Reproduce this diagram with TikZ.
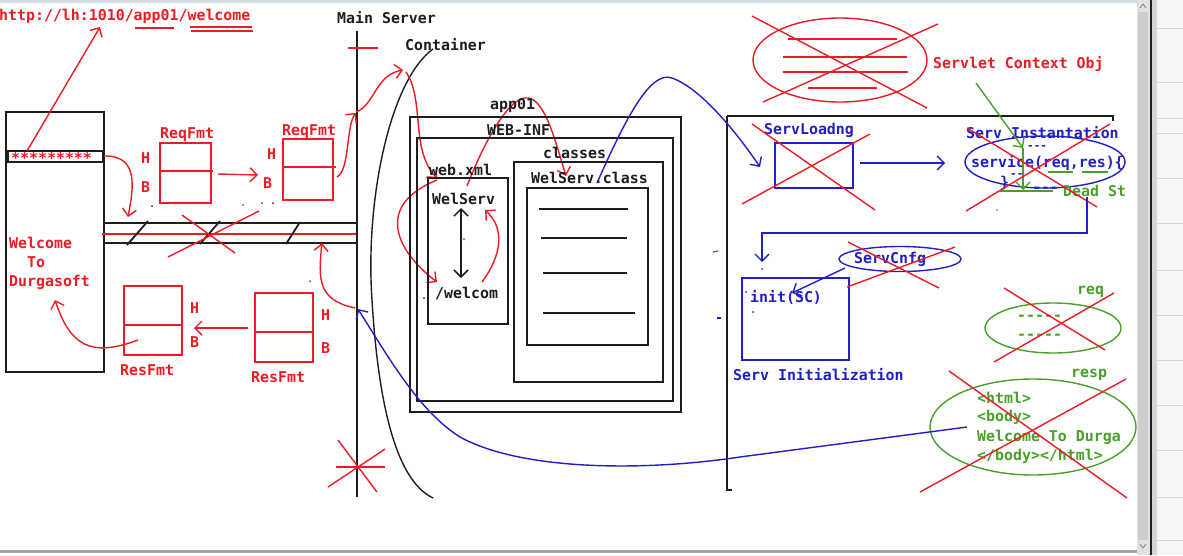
\documentclass[tikz,border=0pt]{standalone}
\usepackage{fontspec}
\setmonofont{DejaVu Sans Mono}
\usetikzlibrary{arrows.meta,shapes.geometric}
\definecolor{pred}{RGB}{237,28,36}
\definecolor{pblue}{RGB}{32,32,196}
\definecolor{pgreen}{RGB}{72,160,40}
\definecolor{pblk}{RGB}{30,30,30}
\definecolor{frametop}{RGB}{214,220,232}
\definecolor{scroll}{RGB}{205,205,205}
\definecolor{panel}{RGB}{246,246,246}
\definecolor{panelline}{RGB}{212,212,212}
\begin{document}
\begin{tikzpicture}[x=1pt,y=-1pt,
  t/.style={font=\ttfamily\bfseries\fontsize{14.9}{16}\selectfont, inner sep=0pt, anchor=west},
  sm/.style={font=\ttfamily\bfseries\fontsize{11}{12}\selectfont},
  rl/.style={pred, line width=1.4pt},
  bl/.style={pblue, line width=1.4pt},
  gl/.style={pgreen, line width=1.4pt},
  kl/.style={pblk, line width=1.8pt},
  v/.style={-{Straight Barb[length=7pt,width=14pt]}},
  vv/.style={{Straight Barb[length=7pt,width=14pt]}-{Straight Barb[length=7pt,width=14pt]}},
  dot/.style={inner sep=0pt, minimum size=2pt, circle, fill},
]
\useasboundingbox (0,0) rectangle (1183,555);
\fill[white] (0,0) rectangle (1183,555);
% window frame
\fill[frametop] (0,0) rectangle (1137,3);
\fill[scroll!60] (1137,0) rectangle (1150,555);
\fill[scroll] (1138,12) rectangle (1148,540);
\draw[gray, line width=0.8pt] (1140,8) -- (1143,4) -- (1146,8);
\draw[gray, line width=0.8pt] (1140,544) -- (1143,548) -- (1146,544);
\fill[panel] (1152,0) rectangle (1183,555);
\fill[panelline] (1152,0) rectangle (1157,555);
\draw[pblk, line width=1.6pt] (1151,0) -- (1151,555);
\foreach \yy in {28,82,118,133,178,223,270,315,360,405,450,497,540}
  \draw[panelline, line width=0.8pt] (1157,\yy) -- (1183,\yy);
\fill[gray!70] (0,550) rectangle (1137,553);

% URL
\node[t, text=pred] (url) at (-1,16) {http://lh:1010/app01/welcome};
\draw[rl] (135,28) -- (174,28);
\draw[rl] (190,27) -- (252,27);
\draw[rl] (191,31) -- (253,31);

% browser
\draw[kl] (6,112) rectangle (104,372);
\draw[kl] (8,151) rectangle (103,162);
\node[t, text=pred] (stars) at (11,158) {*********};
\draw[rl,v] (27,151) -- (100,27);
\node[t, text=pred] (w1) at (9,243) {Welcome};
\node[t, text=pred] (w2) at (27,262) {To};
\node[t, text=pred] (w3) at (9,282) {Durgasoft};

% network bar
\draw[kl] (104,223) -- (357,223);
\draw[kl] (104,243) -- (357,243);
\draw[rl] (102,234) -- (358,234);
\draw[kl] (127,245) -- (148,221);
\draw[kl] (200,244) -- (220,221);
\draw[kl] (286,244) -- (300,222);
\draw[rl] (182,215) -- (235,253);
\draw[rl] (168,257) -- (259,211);

% main server
\node[t, text=pblk] (ms) at (337,18) {Main Server};
\draw[kl] (357,31) -- (357,497);
\draw[rl] (348,48) -- (378,48);
\draw[rl] (336,467) -- (385,467);
\draw[rl] (338,440) -- (377,492);
\draw[rl] (328,487) -- (385,449);

% container
\node[t, text=pblk] (cont) at (405,45) {Container};
\draw[kl, line width=1.4pt] (433,49) .. controls (390,80) and (365,200) .. (372,300)
  .. controls (378,400) and (395,480) .. (433,498);

% ReqFmt 1
\draw[rl] (160,143) rectangle (211,203);
\draw[rl] (160,171) -- (213,171);
\node[t, text=pred] (rq1) at (160,135) {ReqFmt};
\node[t, text=pred] at (141,158) {H};
\node[t, text=pred] at (141,187) {B};
% ReqFmt 2
\draw[rl] (283,139) rectangle (333,200);
\draw[rl] (283,167) -- (336,167);
\node[t, text=pred] (rq2) at (282,132) {ReqFmt};
\node[t, text=pred] at (267,154) {H};
\node[t, text=pred] at (263,183) {B};
\draw[rl,v] (218,174) -- (258,175);

% ResFmt 1
\draw[rl] (124,286) rectangle (182,355);
\draw[rl] (124,325) -- (182,325);
\node[t, text=pred] (rs1) at (120,370) {ResFmt};
\node[t, text=pred] at (190,308) {H};
\node[t, text=pred] at (190,342) {B};
% ResFmt 2
\draw[rl] (255,293) rectangle (313,362);
\draw[rl] (255,332) -- (313,332);
\node[t, text=pred] (rs2) at (251,377) {ResFmt};
\node[t, text=pred] at (321,315) {H};
\node[t, text=pred] at (321,348) {B};
\draw[rl,v] (248,328) -- (194,328);
\draw[rl,v] (138,340) .. controls (90,358) and (70,345) .. (55,300);

% request flow arrows
\draw[rl,v] (104,156) .. controls (140,155) and (133,190) .. (128,217);
\draw[rl,v] (337,177) .. controls (350,170) and (346,125) .. (356,113);
\draw[rl,v] (356,112) .. controls (375,105) and (375,75) .. (403,70);
\draw[rl,v] (406,72) .. controls (425,100) and (410,150) .. (437,178);
\draw[rl,v] (437,180) .. controls (375,205) and (395,250) .. (437,282);
\draw[rl,v] (482,282) .. controls (502,255) and (505,228) .. (485,210);
\draw[rl,v] (467,186) .. controls (485,140) and (510,95) .. (528,98)
  .. controls (545,100) and (555,140) .. (566,176);
\draw[rl,v] (355,308) .. controls (318,300) and (318,280) .. (322,243);

% app01 structure
\draw[kl] (410,117) rectangle (681,412);
\node[t, text=pblk] (app) at (490,106) {app01};
\draw[kl] (417,138) rectangle (673,401);
\node[t, text=pblk] (webinf) at (487,130) {WEB-INF};
\draw[kl] (514,162) rectangle (663,382);
\node[t, text=pblk] (classes) at (543,153) {classes};
\draw[kl] (527,188) rectangle (648,345);
\node[t, text=pblk] (wsc) at (531,178) {WelServ.class};
\draw[kl] (539,209) -- (628,209);
\draw[kl] (541,238) -- (627,238);
\draw[kl] (543,273) -- (627,273);
\draw[kl] (543,313) -- (635,313);
\draw[kl] (428,178) rectangle (508,324);
\node[t, text=pblk] (webxml) at (429,170) {web.xml};
\node[t, text=pblk] (welserv) at (432,199) {WelServ};
\node[t, text=pblk] (welcom) at (435,294) {/welcom};
\node[dot, pblk] at (424,298) {};
\draw[pblk, line width=1.5pt, vv] (461,208) -- (461,278);

% right lifecycle area
\draw[kl] (727,116) -- (1113,116) -- (1113,121);
\draw[kl] (727,116) -- (727,490) -- (732,490);

% servlet context
\draw[rl] (840,60) ellipse [x radius=87pt, y radius=42pt];
\draw[rl] (788,39) -- (897,39);
\draw[rl] (783,57) -- (907,57);
\draw[rl] (783,72) -- (908,72);
\draw[rl] (808,88) -- (877,88);
\draw[rl] (752,16) -- (927,108);
\draw[rl] (938,24) -- (763,102);
\node[t, text=pred] (sco) at (933,64) {Servlet Context Obj};

% blue curve app -> loading
\draw[bl,v] (597,183) .. controls (625,120) and (650,70) .. (672,78)
  .. controls (700,88) and (735,130) .. (760,167);

% ServLoadng
\node[t, text=pblue] (sl) at (764,130) {ServLoadng};
\draw[bl] (775,143) rectangle (853,188);
\draw[rl] (752,124) -- (875,210);
\draw[rl] (870,134) -- (742,204);
\draw[bl,v] (860,163) -- (945,163);

% Serv Instantation
\node[t, text=pblue] (si) at (966,133) {Serv Instantation};
\draw[bl] (1045,162) ellipse [x radius=80pt, y radius=26pt];
\node[t, text=pblue] (svc) at (971,163) {service(req,res)\{};
\node[t, sm, text=pblue] at (1027,148) {---};
\node[t, sm, text=pblue] at (1010,176) {--};
\node[t, text=pblue] at (1000,183) {\}};
\node[t, text=pblue] at (1032,190) {---};
\draw[gl] (1048,172) -- (1073,172);
\draw[gl] (1082,172) -- (1108,172);
\draw[gl,v] (976,83) -- (1023,148);
\draw[gl,v] (1023,148) -- (1023,190);
\draw[gl] (1000,191) -- (1053,191);
\node[t, text=pgreen] (dead) at (1063,191) {Dead St};
\draw[rl] (967,128) -- (1097,207);
\draw[rl] (1110,124) -- (966,211);
\node[dot, pgreen] at (997,210) {};

% to initialization
\draw[bl,v] (1087,197) -- (1087,233) -- (762,233) -- (762,262);
\node[dot, pblue] at (762,269) {};

% Serv Initialization
\draw[bl] (742,278) rectangle (849,360);
\node[t, text=pblue] (init) at (750,297) {init(SC)};
\node[dot, pblue] at (746,292) {};
\node[dot, pblue] at (753,312) {};
\node[t, text=pblue] (sinit) at (733,375) {Serv Initialization};
\draw[bl] (900,259) ellipse [x radius=61pt, y radius=12.5pt];
\node[t, text=pblue] (scfg) at (854,259) {ServCnfg};
\draw[bl,v] (845,268) -- (792,293);
\draw[rl] (848,242) -- (939,288);
\draw[rl] (955,247) -- (847,287);

% req
\draw[gl] (1053,328) ellipse [x radius=68pt, y radius=25pt];
\node[t, text=pgreen] (req) at (1077,292) {req};
\node[t, text=pgreen] at (1017,318) {-----};
\node[t, text=pgreen] at (1017,337) {-----};
\draw[rl] (1004,288) -- (1105,350);
\draw[rl] (1114,293) -- (994,362);

% resp
\draw[gl] (1033,427) ellipse [x radius=103pt, y radius=48pt];
\node[t, text=pgreen] (resp) at (1071,375) {resp};
\node[t, text=pgreen] at (977,398) {<html>};
\node[t, text=pgreen] at (977,417) {<body>};
\node[t, text=pgreen] at (977,437) {Welcome To Durga};
\node[t, text=pgreen] at (977,456) {</body></html>};
\draw[rl] (949,371) -- (1127,498);
\draw[rl] (1126,379) -- (920,492);

% response blue curve
\draw[bl,v] (967,427) -- (740,457) .. controls (640,472) and (520,470) .. (460,437)
  .. controls (420,412) and (390,360) .. (358,309);

% stray marks
\node[dot, pblk] at (152,206) {};
\node[dot, pred] at (243,205) {};
\node[dot, pred] at (262,203) {};
\node[dot, pblk] at (273,203) {};
\node[dot, pred] at (310,281) {};
\node[dot, pred] at (464,239) {};
\draw[pred, line width=1.2pt] (713,252) -- (718,251);
\draw[pblue, line width=1.2pt] (717,318) -- (721,318);
\end{tikzpicture}
\end{document}
